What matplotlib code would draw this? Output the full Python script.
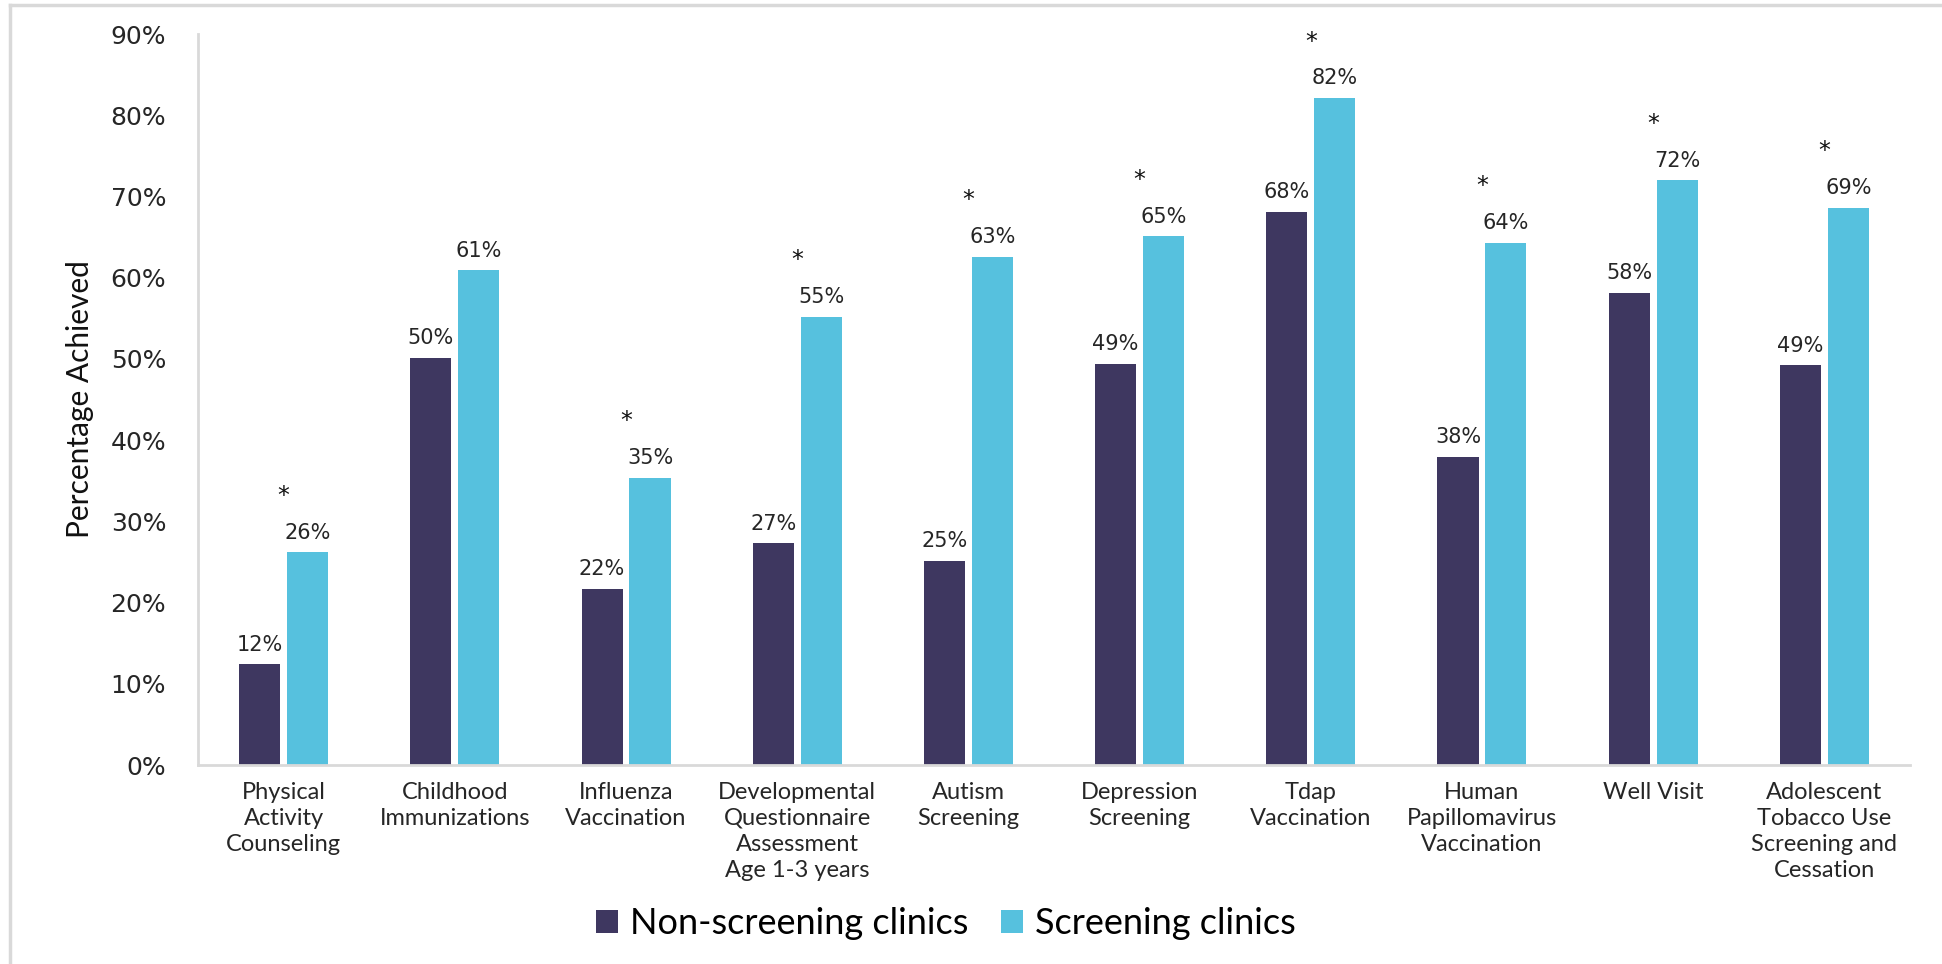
import numpy as np
import matplotlib
matplotlib.use("Agg")
import matplotlib.pyplot as plt
from matplotlib.lines import Line2D

categories = [
    "Physical\nActivity\nCounseling",
    "Childhood\nImmunizations",
    "Influenza\nVaccination",
    "Developmental\nQuestionnaire\nAssessment\nAge 1-3 years",
    "Autism\nScreening",
    "Depression\nScreening",
    "Tdap\nVaccination",
    "Human\nPapillomavirus\nVaccination",
    "Well Visit",
    "Adolescent\nTobacco Use\nScreening and\nCessation",
]
non_screening = [12.4, 50.1, 21.7, 27.3, 25.1, 49.4, 68.1, 37.9, 58.1, 49.2]
screening = [26.2, 60.9, 35.4, 55.2, 62.6, 65.1, 82.1, 64.3, 72.0, 68.6]
significant = [True, False, True, True, True, True, True, True, True, True]
series_names = ["Non-screening clinics", "Screening clinics"]

dark = "#3E3760"
light = "#56C1DE"
grid_grey = "#D9D9D9"
text_col = "#262626"

fig = plt.figure(figsize=(19.42, 9.64), dpi=100)
ax = fig.add_axes([0.102, 0.2064, 0.8815, 0.7583])

x = np.arange(len(categories))
w = 0.24
off = 0.14
b1 = ax.bar(x - off, non_screening, w, color=dark, label=series_names[0])
b2 = ax.bar(x + off, screening, w, color=light, label=series_names[1])

num_font = "DejaVu Sans"
txt_font = "Lato"

for xi, v in zip(x, non_screening):
    ax.annotate(f"{v:.0f}%", (xi - off, v), xytext=(0, 7), textcoords="offset points",
                ha="center", va="bottom", fontsize=15, family=num_font, color=text_col)
for xi, v, s in zip(x, screening, significant):
    ax.annotate(f"{v:.0f}%", (xi + off, v), xytext=(0, 7), textcoords="offset points",
                ha="center", va="bottom", fontsize=15, family=num_font, color=text_col)
    if s:
        ax.annotate("*", (xi, v), xytext=(0, 32), textcoords="offset points",
                    ha="center", va="bottom", fontsize=17, family=num_font, color="#111111")

ax.set_xlim(-0.5, len(categories) - 0.5)
ax.set_ylim(0, 90)
ax.set_yticks(np.arange(0, 91, 10))
ax.set_yticklabels([f"{t}%" for t in range(0, 91, 10)], family=num_font, fontsize=18, color=text_col)
ax.set_xticks(x)
ax.set_xticklabels(categories, family=txt_font, fontsize=17, color=text_col, linespacing=1.3)
ax.tick_params(axis="both", length=0)
ax.tick_params(axis="y", pad=23)
ax.tick_params(axis="x", pad=12)

for side in ["top", "right"]:
    ax.spines[side].set_visible(False)
for side in ["left", "bottom"]:
    ax.spines[side].set_color(grid_grey)
    ax.spines[side].set_linewidth(2)

ax.set_ylabel("Percentage Achieved", family=txt_font, fontsize=21.5, color="#111111", labelpad=12)

fig.legend(handles=[b1, b2], labels=series_names, loc="center",
           bbox_to_anchor=(946 / 1942, 1 - 924 / 964), ncol=2, frameon=False,
           prop={"family": txt_font, "size": 26}, handlelength=0.6, handleheight=0.6,
           handletextpad=0.35, columnspacing=0.9)

# light frame lines on the top and left of the picture
fig.add_artist(Line2D([10 / 1942, 1], [1 - 5 / 964, 1 - 5 / 964], color=grid_grey, lw=2.5,
                      transform=fig.transFigure))
fig.add_artist(Line2D([10 / 1942, 10 / 1942], [0, 1 - 5 / 964], color=grid_grey, lw=2.5,
                      transform=fig.transFigure))

fig.savefig("out.png", dpi=100)
